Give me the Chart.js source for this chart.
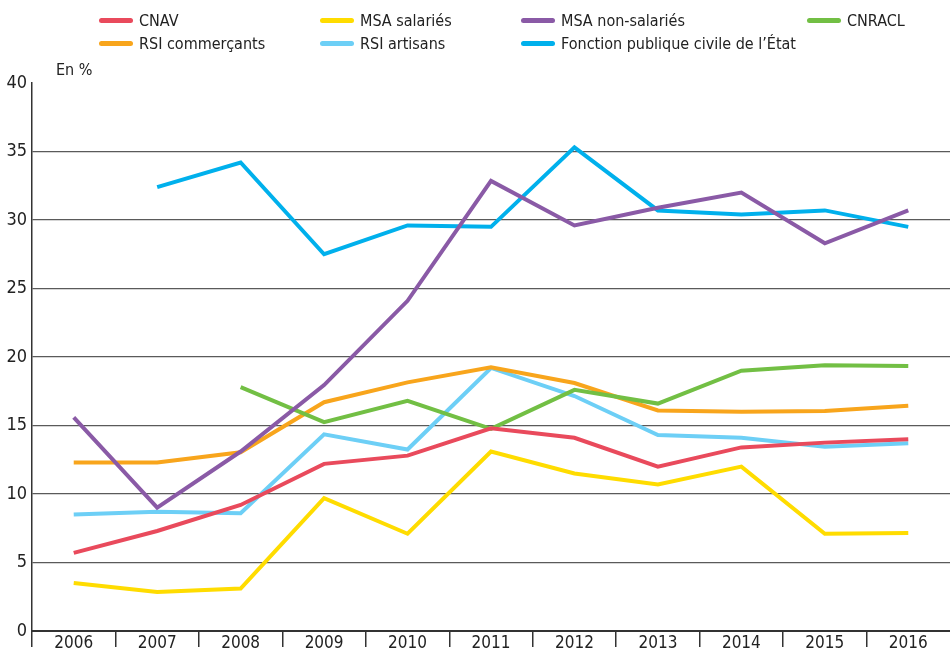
<!DOCTYPE html>
<html lang="fr">
<head>
<meta charset="utf-8">
<script src="https://cdn.jsdelivr.net/npm/chart.js@4"></script>
<style>
  html, body { margin: 0; padding: 0; background: #fff; }
  #wrap { position: relative; width: 950px; height: 658px; }
  #legend { position: absolute; left: 0; top: 0; width: 950px; height: 60px;
    font-family: "Liberation Sans Narrow", "DejaVu Sans Condensed", sans-serif; font-size: 16px; color: #222; }
  .item { position: absolute; display: flex; align-items: center; height: 20px; }
  .item span.sw { display: inline-block; width: 34px; height: 5px; border-radius: 3px; margin-right: 6px; }
</style>
</head>
<body>
<div id="wrap">
  <canvas id="pensionChart" width="950" height="658"></canvas>
  <div id="legend"></div>
</div>
<script>
// Années
const years = ['2006', '2007', '2008', '2009', '2010', '2011', '2012', '2013', '2014', '2015', '2016'];

// Valeurs en % par régime (null = pas de donnée)
const cnav        = [5.7, 7.3, 9.2, 12.2, 12.8, 14.8, 14.1, 12.0, 13.4, 13.75, 14.0];
const msaSal      = [3.5, 2.85, 3.1, 9.7, 7.1, 13.1, 11.5, 10.7, 12.0, 7.1, 7.15];
const msaNonSal   = [15.6, 9.0, 13.1, 17.95, 24.1, 32.85, 29.6, 30.9, 32.0, 28.3, 30.7];
const cnracl      = [null, null, 17.8, 15.25, 16.8, 14.75, 17.6, 16.6, 19.0, 19.4, 19.35];
const rsiCom      = [12.3, 12.3, 13.05, 16.7, 18.15, 19.25, 18.1, 16.1, 16.0, 16.05, 16.45];
const rsiArt      = [8.5, 8.7, 8.6, 14.35, 13.25, 19.2, 17.15, 14.3, 14.1, 13.45, 13.7];
const fonctionPub = [null, 32.4, 34.2, 27.5, 29.6, 29.5, 35.3, 30.7, 30.4, 30.7, 29.5];

const yTicks = [0, 5, 10, 15, 20, 25, 30, 35, 40];

const seriesNames  = ['CNAV', 'MSA salariés', 'MSA non-salariés', 'CNRACL',
                      'RSI commerçants', 'RSI artisans', 'Fonction publique civile de l\u2019État'];
const seriesData   = [cnav, msaSal, msaNonSal, cnracl, rsiCom, rsiArt, fonctionPub];
const seriesColors = ['#e94a5c', '#ffdc00', '#8a5aa6', '#72bf44', '#f8a51c', '#6dcff6', '#00b0ec'];

const font = "'Liberation Sans Narrow', 'DejaVu Sans Condensed', sans-serif";

// Légende en grille (4 colonnes, 2 lignes)
const legendX = [99, 320, 521, 807];
const legendY = [10, 33];
const legend = document.getElementById('legend');
seriesNames.forEach((name, i) => {
    const el = document.createElement('div');
    el.className = 'item';
    el.style.left = legendX[i % 4] + 'px';
    el.style.top = legendY[Math.floor(i / 4)] + 'px';
    el.innerHTML = '<span class="sw" style="background:' + seriesColors[i] + '"></span>' + name;
    legend.appendChild(el);
});

// Libellé "En %"
const unitLabel = {
    id: 'unitLabel',
    afterDraw(chart) {
        const c = chart.ctx;
        c.save();
        c.font = '16px ' + font;
        c.fillStyle = '#222';
        c.textBaseline = 'alphabetic';
        c.fillText('En %', chart.chartArea.left + 24, chart.chartArea.top - 8);
        c.restore();
    }
};

const ctx = document.getElementById('pensionChart').getContext('2d');
const pensionChart = new Chart(ctx, {
    type: 'line',
    data: {
        labels: years,
        datasets: seriesData.map((d, i) => ({
            label: seriesNames[i],
            data: d,
            borderColor: seriesColors[i],
            backgroundColor: seriesColors[i],
            borderWidth: 4,
            pointRadius: 0,
            tension: 0,
            fill: false
        }))
    },
    options: {
        responsive: false,
        animation: false,
        layout: { padding: { top: 83, right: 0, left: 0, bottom: 0 } },
        plugins: {
            legend: { display: false },
            tooltip: { enabled: false }
        },
        scales: {
            x: {
                offset: true,
                grid: {
                    offset: true,
                    drawOnChartArea: false,
                    drawTicks: true,
                    tickLength: 16,
                    color: c => c.tick ? '#333' : 'rgba(0,0,0,0)',
                    lineWidth: 1.5
                },
                border: { display: true, color: '#333', width: 2 },
                ticks: {
                    font: { family: font, size: 17 },
                    color: '#222',
                    padding: -14,
                    maxRotation: 0
                },
                afterFit(scale) { scale.height = 27; }
            },
            y: {
                min: 0,
                max: 40,
                afterBuildTicks(scale) { scale.ticks = yTicks.map(v => ({ value: v })); },
                grid: {
                    drawTicks: false,
                    color: c => c.tick && (c.tick.value === 40 || c.tick.value === 0) ? 'rgba(0,0,0,0)' : '#5a5a5a',
                    lineWidth: 1.3
                },
                border: { display: true, color: '#333', width: 1.5 },
                ticks: {
                    font: { family: font, size: 18 },
                    color: '#222',
                    padding: 5
                },
                afterFit(scale) { scale.width = 32; }
            }
        }
    },
    plugins: [unitLabel]
});
</script>
</body>
</html>
